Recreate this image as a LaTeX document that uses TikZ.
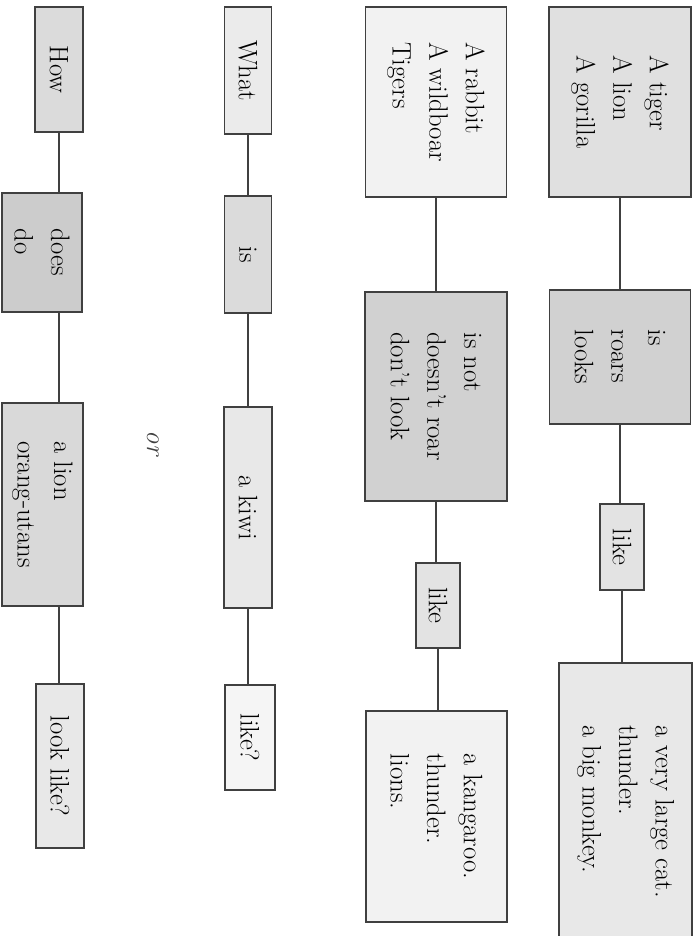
\documentclass[tikz,border=0pt]{standalone}

\begin{document}
\begin{tikzpicture}[
  word/.style={draw=black!75,line width=.9pt,rotate=-90,align=left,inner sep=4pt,font=\fontsize{19}{26}\selectfont},
  link/.style={draw=black!75,line width=.8pt}
]
  \useasboundingbox (0,0) rectangle (17.475,-23.4);

  \node[word,fill=black!12,minimum width=4.75cm,minimum height=3.55cm] (tiger) at (15.5,-2.55) {A tiger\\A lion\\A gorilla};
  \node[word,fill=black!18,minimum width=3.35cm,minimum height=3.525cm] (roars) at (15.5,-8.925) {is\\roars\\looks};
  \node[word,fill=black!11,minimum width=2.15cm,minimum height=1.1cm] (likeA) at (15.55,-13.675) {like};
  \node[word,fill=black!9,minimum width=7.425cm,minimum height=3.325cm] (cat) at (15.64,-20.29) {a very large cat.\\thunder.\\a big monkey.};

  \node[word,fill=black!5,minimum width=4.75cm,minimum height=3.525cm] (rabbit) at (10.9,-2.55) {A rabbit\\A wildboar\\Tigers};
  \node[word,fill=black!18,minimum width=5.225cm,minimum height=3.55cm] (isnot) at (10.9,-9.9125) {is not\\doesn't roar\\don't look};
  \node[word,fill=black!11,minimum width=2.125cm,minimum height=1.1cm] (likeB) at (10.95,-15.1375) {like};
  \node[word,fill=black!5,minimum width=5.275cm,minimum height=3.525cm] (kangaroo) at (10.91,-20.4125) {a kangaroo.\\thunder.\\lions.};

  \node[word,fill=black!8,minimum width=3.175cm,minimum height=1.175cm] (what) at (6.2,-1.7625) {What};
  \node[word,fill=black!14,minimum width=2.925cm,minimum height=1.175cm] (is) at (6.2,-6.3625) {is};
  \node[word,fill=black!9,minimum width=5.025cm,minimum height=1.2cm] (kiwi) at (6.2,-12.6875) {a kiwi};
  \node[word,fill=black!4,minimum width=2.625cm,minimum height=1.25cm] (likeq) at (6.25,-18.4375) {like?};

  \node[rotate=-90,font=\fontsize{19}{26}\selectfont\itshape,text=black!75] (or) at (3.825,-11.075) {or};

  \node[word,fill=black!14,minimum width=3.125cm,minimum height=1.2cm] (how) at (1.475,-1.7375) {How};
  \node[word,fill=black!20,minimum width=2.975cm,minimum height=2.0cm] (does) at (1.05,-6.3125) {does\\do};
  \node[word,fill=black!15,minimum width=5.075cm,minimum height=2.025cm] (lion) at (1.06,-12.6125) {a lion\\orang-utans};
  \node[word,fill=black!9,minimum width=4.1cm,minimum height=1.2cm] (look) at (1.5,-19.15) {look like?};

  \draw[link] (tiger.east) -- (tiger.east |- roars.west);
  \draw[link] (roars.east) -- (roars.east |- likeA.west);
  \draw[link] (likeA.east) -- (likeA.east |- cat.west);

  \draw[link] (rabbit.east) -- (rabbit.east |- isnot.west);
  \draw[link] (isnot.east) -- (isnot.east |- likeB.west);
  \draw[link] (likeB.east) -- (likeB.east |- kangaroo.west);

  \draw[link] (what.east) -- (what.east |- is.west);
  \draw[link] (is.east) -- (is.east |- kiwi.west);
  \draw[link] (kiwi.east) -- (kiwi.east |- likeq.west);

  \draw[link] (how.east) -- (how.east |- does.west);
  \draw[link] (how.east |- does.east) -- (how.east |- lion.west);
  \draw[link] (how.east |- lion.east) -- (how.east |- look.west);
\end{tikzpicture}
\end{document}
